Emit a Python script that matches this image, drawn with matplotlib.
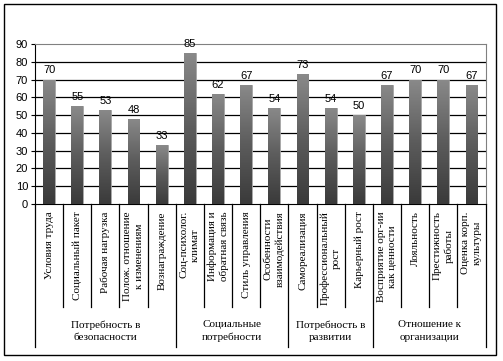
import numpy as np
import matplotlib.pyplot as plt
from matplotlib.patches import Rectangle
from matplotlib.transforms import blended_transform_factory

# data
categories = [
    "Условия труда", "Социальный пакет", "Рабочая нагрузка",
    "Полож. отношение\nк изменениям", "Вознаграждение",
    "Соц-психолог.\nклимат", "Информация и\nобратная связь",
    "Стиль управления", "Особенности\nвзаимодействия",
    "Самореализация", "Профессиональный\nрост", "Карьерный рост",
    "Восприятие орг-ии\nкак ценности", "Лояльность",
    "Престижность\nработы", "Оценка корп.\nкультуры",
]
values = [70, 55, 53, 48, 33, 85, 62, 67, 54, 73, 54, 50, 67, 70, 70, 67]
groups = ["Потребность в\nбезопасности", "Социальные\nпотребности",
          "Потребность в\nразвитии", "Отношение к\nорганизации"]
group_sizes = [5, 4, 3, 4]

serif = "Liberation Serif"
sans = "Liberation Sans"

fig = plt.figure(figsize=(5.03, 3.61), dpi=100)
fig.patches.append(Rectangle((4 / 503, 1 - 355 / 361), 492 / 503, 351 / 361,
                             transform=fig.transFigure, fill=False,
                             edgecolor="black", linewidth=1.0))
ax = fig.add_axes([35 / 503, 1 - 204 / 361, 450.6 / 503, 160 / 361])

x = np.arange(len(values))
bars = ax.bar(x, values, width=0.42, color="#606060", edgecolor="#a8a8a8",
              linewidth=0.6, zorder=3)

# vertical gradient inside each bar, light on top, dark at bottom
grad = np.linspace(0, 1, 256).reshape(-1, 1)
cmap = plt.matplotlib.colors.LinearSegmentedColormap.from_list(
    "g", ["#3a3a3a", "#5c5c5c", "#8a8a8a"])
for b in bars:
    bx, by = b.get_x(), b.get_y()
    im = ax.imshow(grad, extent=[bx, bx + b.get_width(), by, by + b.get_height()],
                   origin="lower", aspect="auto", cmap=cmap, zorder=3.5)
    im.set_clip_path(b)

for xi, v in zip(x, values):
    ax.annotate(str(v), (xi, v), xytext=(0, 3), textcoords="offset points",
                ha="center", va="bottom", fontsize=8, family=sans)

ax.set_xlim(-0.5, len(values) - 0.5)
ax.set_ylim(0, 90)
ax.set_yticks(range(0, 100, 10))
ax.tick_params(axis="y", labelsize=8, length=3, direction="out", pad=2)
for lbl in ax.get_yticklabels():
    lbl.set_family(sans)
ax.set_xticks([])
for yv in range(10, 90, 10):
    ax.axhline(yv, color="black", linewidth=0.9, zorder=1)

ax.spines["top"].set_color("#808080")
ax.spines["right"].set_color("#808080")
ax.spines["left"].set_color("black")
ax.spines["bottom"].set_color("black")

tr = blended_transform_factory(ax.transData, ax.transAxes)

# category labels and separators
for xi, name in zip(x, categories):
    ax.text(xi, -0.045, name, transform=tr, rotation=90, ha="center", va="top",
            multialignment="center", fontsize=8, family=serif, linespacing=1.35)
bounds = np.cumsum([0] + group_sizes)
for k in range(len(values) + 1):
    low = -0.894 if k in bounds else -0.644
    ax.plot([k - 0.5, k - 0.5], [0, low], transform=tr, color="black",
            linewidth=0.9, clip_on=False)

# group labels
for g, (s, e) in zip(groups, zip(bounds[:-1], bounds[1:])):
    ax.text((s + e - 1) / 2, -0.795, g, transform=tr, ha="center", va="center",
            fontsize=8, family=serif, linespacing=1.5)

fig.savefig("out.png", dpi=100)
